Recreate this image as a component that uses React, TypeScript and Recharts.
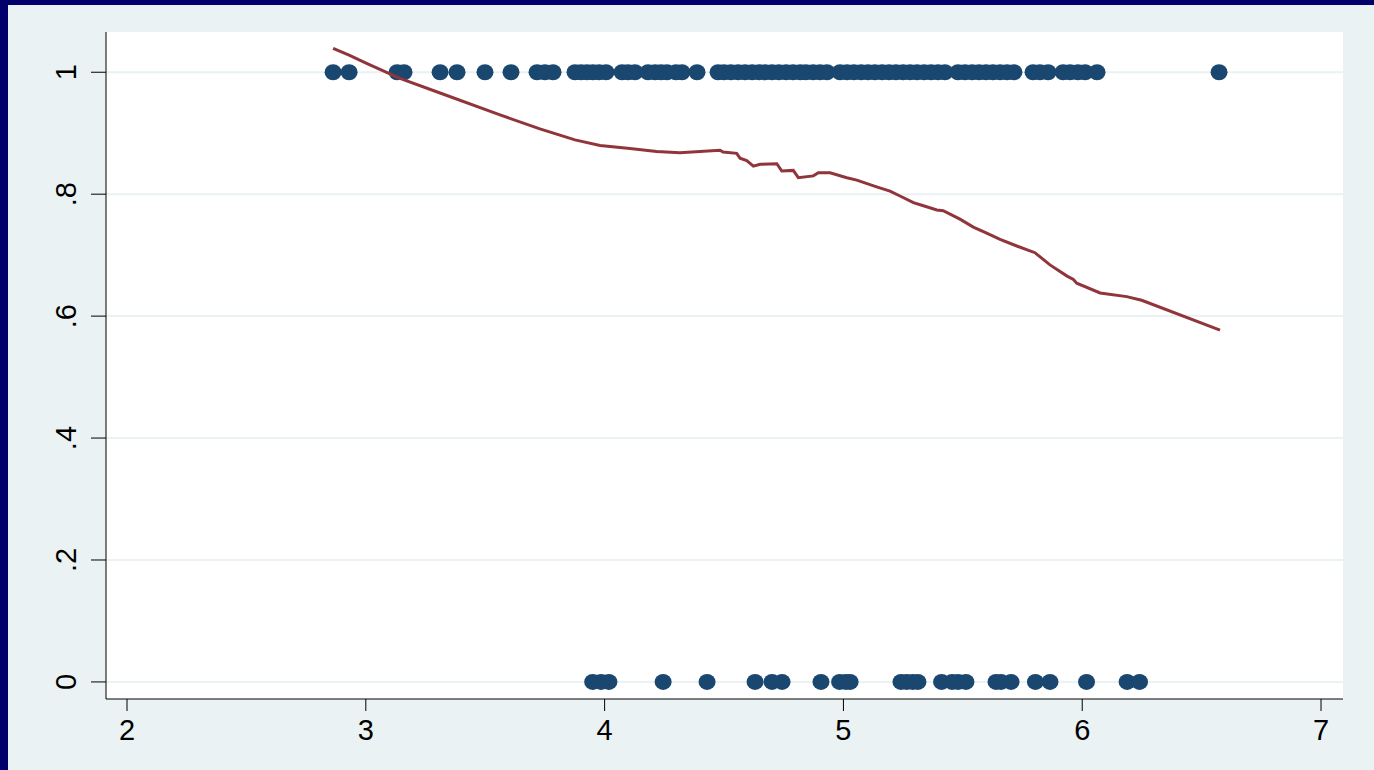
import React from "react";
import { ScatterChart, Scatter, XAxis, YAxis, CartesianGrid } from "recharts";

const W = 1374;
const H = 770;

// observations at y = 1
const topX = [
  2.863, 2.93, 3.131, 3.16, 3.311, 3.382, 3.499, 3.608, 3.717, 3.75, 3.784,
  3.876, 3.901, 3.926, 3.951, 3.977, 4.006, 4.073, 4.098, 4.127, 4.182, 4.211,
  4.236, 4.261, 4.299, 4.324, 4.387, 4.475, 4.5, 4.529, 4.559, 4.588, 4.618,
  4.647, 4.672, 4.701, 4.73, 4.76, 4.789, 4.819, 4.843, 4.873, 4.902, 4.931,
  4.986, 5.015, 5.044, 5.074, 5.103, 5.132, 5.162, 5.191, 5.22, 5.25, 5.279,
  5.308, 5.338, 5.367, 5.396, 5.425, 5.48, 5.509, 5.539, 5.568, 5.597, 5.626,
  5.656, 5.685, 5.714, 5.794, 5.823, 5.857, 5.92, 5.949, 5.982, 6.012, 6.062,
  6.573,
];

// observations at y = 0
const bottomX = [
  3.95, 3.985, 4.018, 4.245, 4.429, 4.63, 4.701, 4.743, 4.906, 4.984, 5.01,
  5.028, 5.241, 5.265, 5.29, 5.312, 5.411, 5.455, 5.48, 5.513, 5.639, 5.66,
  5.702, 5.804, 5.865, 6.018, 6.188, 6.24,
];

// lowess fit
const fitX = [
  2.863, 2.93, 3.001, 3.143, 3.311, 3.562, 3.729, 3.876, 3.981, 4.106, 4.218,
  4.315, 4.483, 4.496, 4.553, 4.567, 4.595, 4.623, 4.651, 4.721, 4.742, 4.79,
  4.811, 4.874, 4.895, 4.944, 5.014, 5.056, 5.139, 5.195, 5.237, 5.293, 5.335,
  5.391, 5.418, 5.488, 5.544, 5.6, 5.656, 5.726, 5.802, 5.865, 5.935, 5.963,
  5.977, 6.075, 6.186, 6.249, 6.577,
];
const fitY = [
  1.039, 1.028, 1.015, 0.99, 0.966, 0.93, 0.907, 0.889, 0.88, 0.875, 0.87,
  0.868, 0.872, 0.869, 0.867, 0.859, 0.855, 0.846, 0.849, 0.85, 0.838, 0.839,
  0.827, 0.83, 0.835, 0.835, 0.827, 0.823, 0.812, 0.805, 0.797, 0.786, 0.781,
  0.774, 0.773, 0.759, 0.746, 0.736, 0.726, 0.715, 0.704, 0.684, 0.666, 0.66,
  0.654, 0.638, 0.632, 0.626, 0.577,
];

const xTicks = [2, 3, 4, 5, 6, 7];
const yTicks = [0, 0.2, 0.4, 0.6, 0.8, 1];
const yLabels = ["0", ".2", ".4", ".6", ".8", "1"];

const topData = topX.map((x) => ({ x, y: 1 }));
const bottomData = bottomX.map((x) => ({ x, y: 0 }));
const fitData = fitX.map((x, i) => ({ x, y: fitY[i] }));

const NAVY = "#1A476F";
const MAROON = "#90353B";
const FONT = "'Liberation Sans', Arial, sans-serif";

function Dot(props: any) {
  const { cx, cy } = props;
  if (cx == null || cy == null) return <g />;
  return <ellipse cx={cx} cy={cy} rx={8.5} ry={8} fill={NAVY} />;
}

function YTick(props: any) {
  const { x, y, payload } = props;
  const i = yTicks.indexOf(payload.value);
  return (
    <text
      transform={`translate(${x - 25},${y}) rotate(-90)`}
      textAnchor="middle"
      dominantBaseline="central"
      fontSize={29}
      fontFamily={FONT}
      fill="#000"
    >
      {i >= 0 ? yLabels[i] : payload.value}
    </text>
  );
}

export default function App() {
  return (
    <div
      style={{
        position: "fixed",
        left: 0,
        top: 0,
        width: W,
        height: H,
        background: "#02006B",
      }}
    >
      <div
        style={{
          position: "absolute",
          left: 8,
          top: 5,
          width: W - 8,
          height: H - 5,
          background: "#EAF2F3",
        }}
      />
      <div style={{ position: "absolute", left: 0, top: 0 }}>
        <ScatterChart
          width={W}
          height={H}
          margin={{ top: 32, right: 31, bottom: 0, left: 0 }}
        >
          <CartesianGrid
            vertical={false}
            horizontalValues={yTicks}
            stroke="#EAF2F3"
            strokeWidth={2}
            fill="#FFFFFF"
          />
          <XAxis
            type="number"
            dataKey="x"
            domain={[1.912, 7.092]}
            ticks={xTicks}
            allowDataOverflow
            height={71}
            tickSize={12}
            tickMargin={8}
            stroke="#000"
            tick={{ fontSize: 29, fontFamily: FONT, fill: "#000" }}
          />
          <YAxis
            type="number"
            dataKey="y"
            domain={[-0.028, 1.066]}
            ticks={yTicks}
            allowDataOverflow
            width={106}
            tickSize={15}
            tickMargin={0}
            stroke="#000"
            tick={<YTick />}
          />
          <Scatter
            data={topData}
            fill={NAVY}
            shape={<Dot />}
            isAnimationActive={false}
          />
          <Scatter
            data={bottomData}
            fill={NAVY}
            shape={<Dot />}
            isAnimationActive={false}
          />
          <Scatter
            data={fitData}
            fill={MAROON}
            line={{ stroke: MAROON, strokeWidth: 3 }}
            lineType="joint"
            shape={() => <g />}
            isAnimationActive={false}
          />
        </ScatterChart>
      </div>
    </div>
  );
}
